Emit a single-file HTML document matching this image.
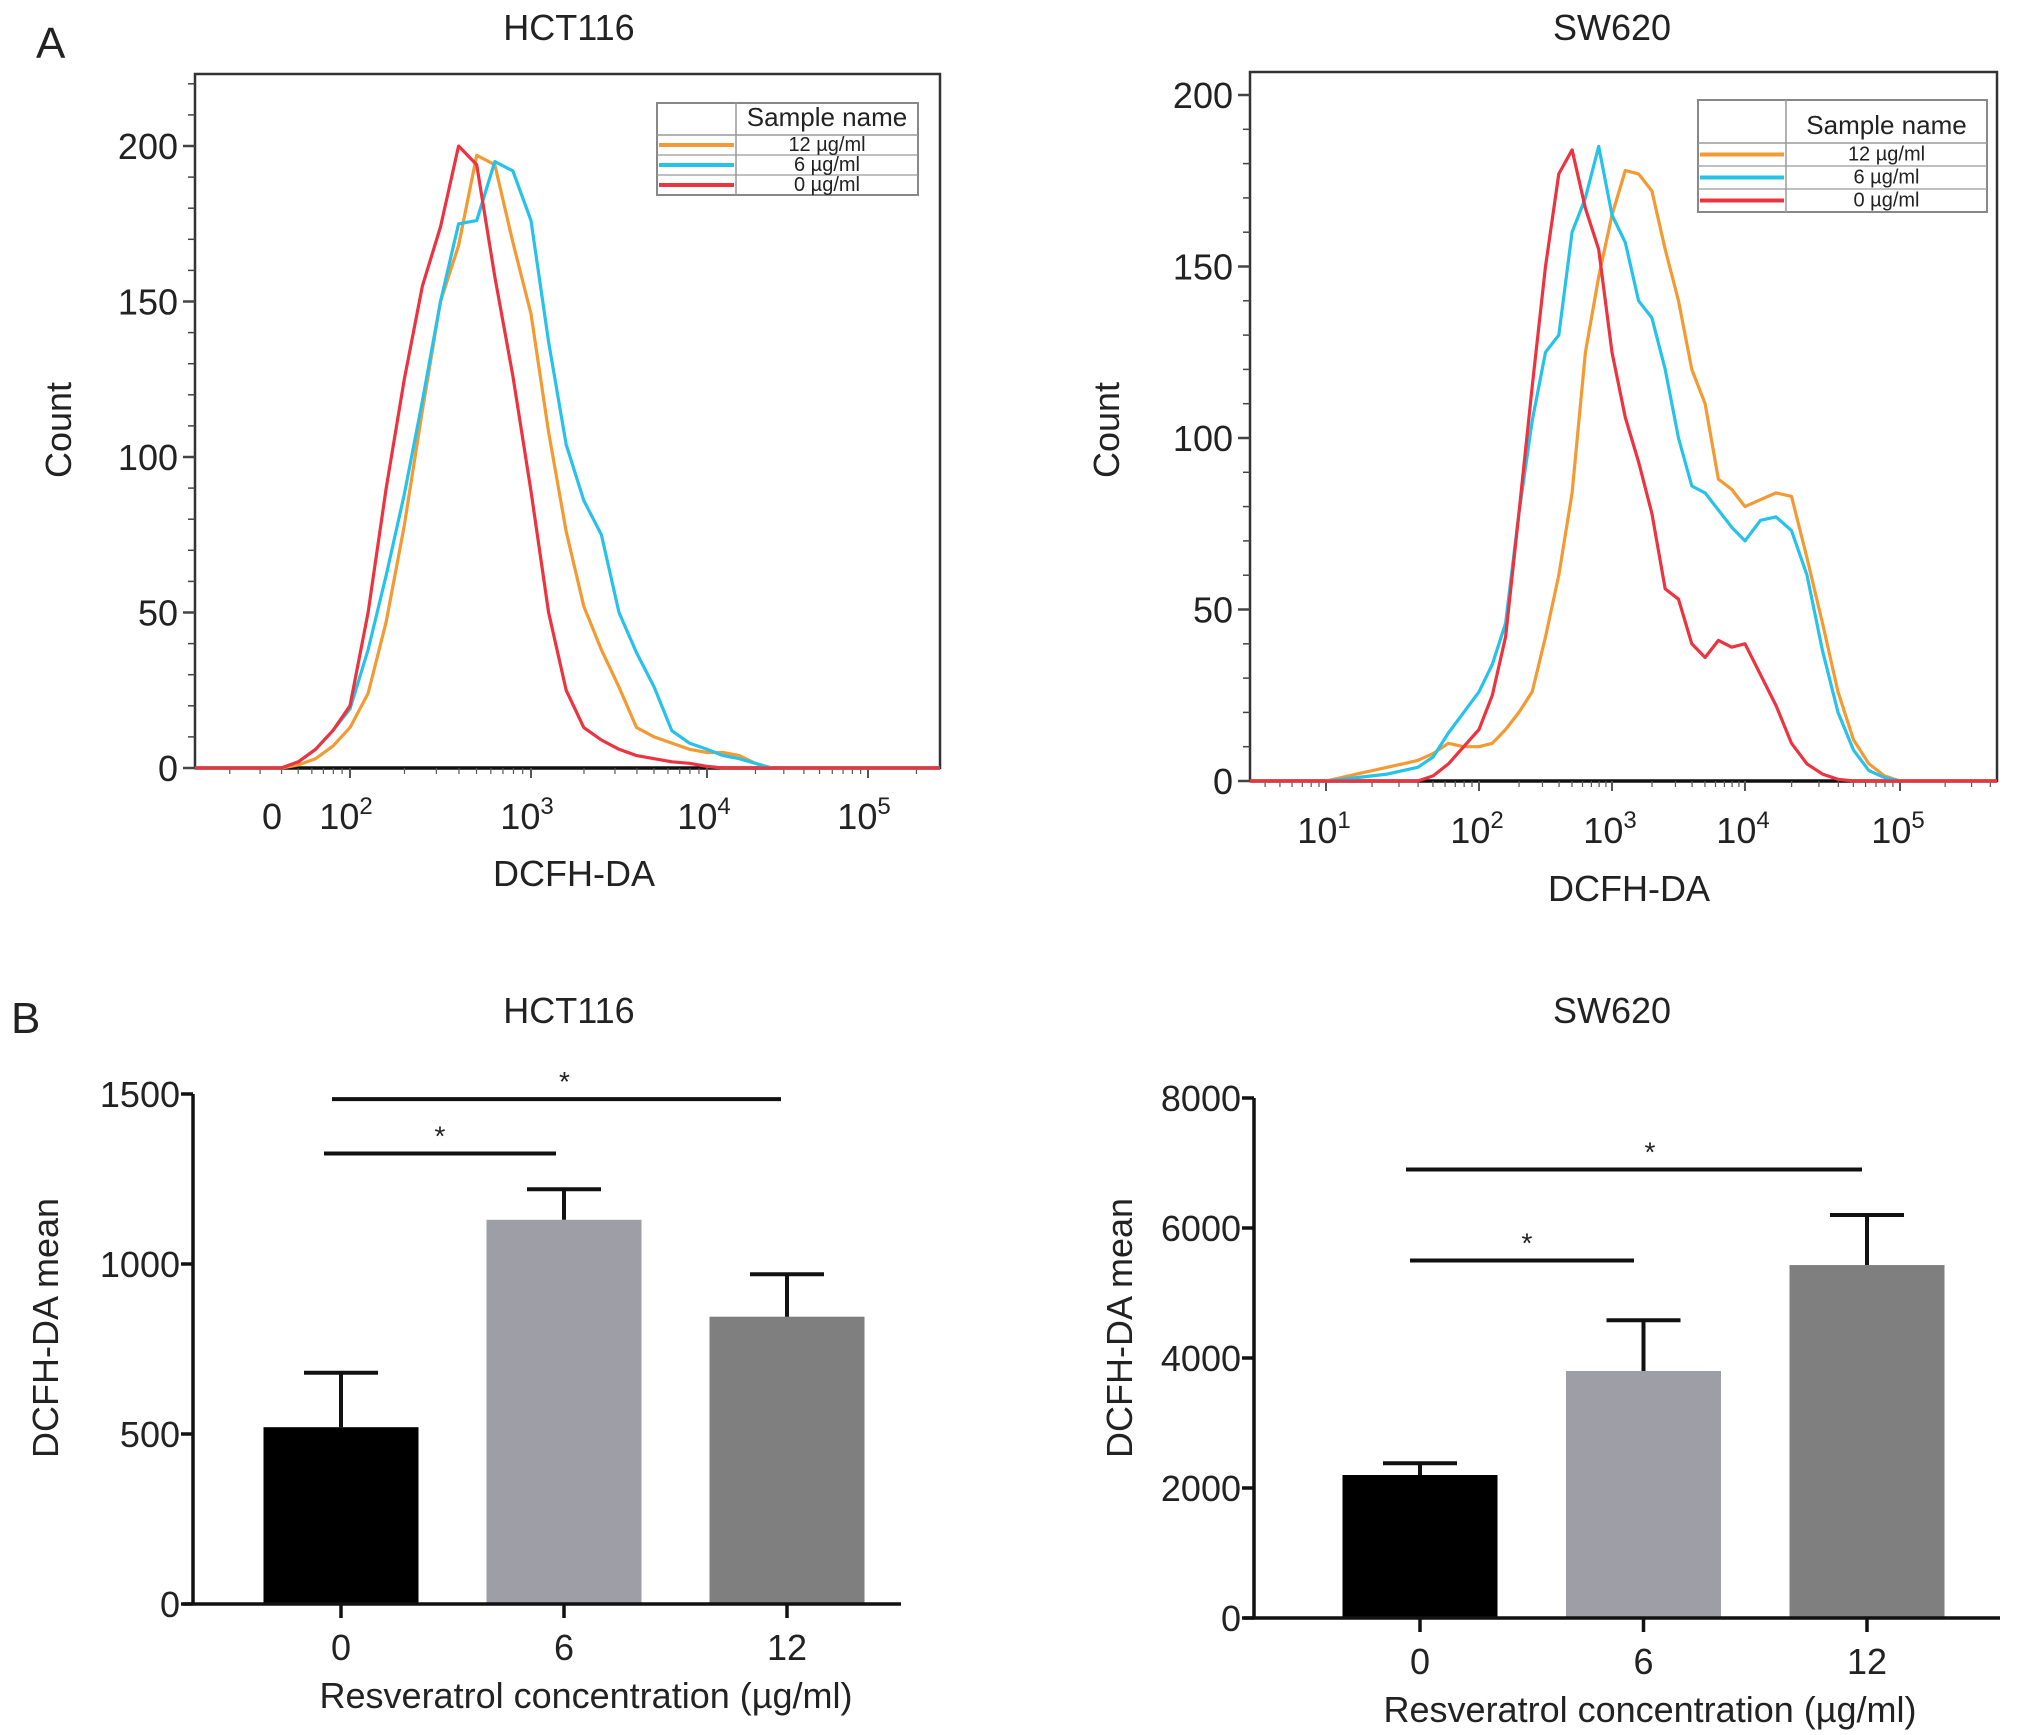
<!DOCTYPE html>
<html><head><meta charset="utf-8"><style>
html,body{margin:0;padding:0;background:#fff;}
svg{display:block;font-family:"Liberation Sans",Arial,sans-serif;}
</style></head><body>
<svg id="fig" width="2031" height="1735" viewBox="0 0 2031 1735" xmlns="http://www.w3.org/2000/svg"></svg>
<script>
// ---------- data ----------
// HCT116 histogram (log10 DCFH-DA grid)
const hctGrid = [1.6,1.7,1.8,1.9,2.0,2.1,2.2,2.3,2.4,2.5,2.6,2.7,2.8,2.9,3.0,3.1,3.2,3.3,3.4,3.5,3.6,3.7,3.8,3.9,4.0,4.1,4.2,4.3,4.4];
const hctRed    = [0,2,6,12,20,50,90,125,155,174,200,194,158,126,89,50,25,13,9,6,4,3,2,1.5,0.5,0,0,0,0];
const hctOrange = [0,1,3,7,13,24,47,78,115,150,168,197,194,169,146,108,76,52,38,26,13,10,8,6,5,5,4,1.5,0];
const hctCyan   = [0,2,6,12,19,38,62,88,118,150,175,176,195,192,176,137,104,86,75,50,37,26,12,8,6,4,3,1.5,0];
// SW620 histogram
const swGrid = [1.0,1.1,1.2,1.3,1.4,1.5,1.6,1.7,1.8,1.9,2.0,2.1,2.2,2.3,2.4,2.5,2.6,2.7,2.8,2.9,3.0,3.1,3.2,3.3,3.4,3.5,3.6,3.7,3.8,3.9,4.0,4.1,4.2,4.3,4.4,4.5,4.6,4.7,4.8,4.9,5.0];
const swRed    = [0,0,0,0,0,0,0,1.5,5,10,15,25,42,78,115,150,177,184,167,155,125,106,93,78,56,53,40,36,41,39,40,31,22,11,5,2,0.5,0,0,0,0];
const swCyan   = [0,0.5,1,1.5,2,3,4,7,14,20,26,34,46,78,105,125,130,160,170,185,165,157,140,135,120,100,86,84,79,74,70,76,77,73,60,38,20,9,3,1,0];
const swOrange = [0,1,2,3,4,5,6,8,11,10,10,11,15,20,26,42,60,84,125,147,165,178,177,172,155,140,120,110,88,85,80,82,84,83,65,46,26,12,5,1.5,0];
// Bar charts
const barCats = ["0","6","12"];
const hctMeans = [520,1130,845];
const hctErr   = [680,1220,970];
const swMeans  = [2200,3800,5430];
const swErr    = [2380,4580,6200];
const hctYTicks = [0,500,1000,1500];
const swYTicks  = [0,2000,4000,6000,8000];
const legendLabels = ["12 µg/ml","6 µg/ml","0 µg/ml"];

// ---------- helpers ----------
const NS="http://www.w3.org/2000/svg";
const svg=document.getElementById('fig');
function mk(tag,attrs,parent,text){const e=document.createElementNS(NS,tag);for(const k in attrs)e.setAttribute(k,attrs[k]);if(text!==undefined)e.textContent=text;(parent||svg).appendChild(e);return e;}
const COL={orange:"#f39a33",cyan:"#27c2ea",red:"#ec3340"};
const FS=36;

function txt(x,y,s,size,parent,anchor,name,extra){
  const t=mk('text',Object.assign({x:x,y:y,'font-size':size,'text-anchor':anchor||'middle',fill:'#222'},extra||{}),parent,s);
  
  
  return t;
}

// ---------- histogram panel ----------
function histPanel(cfg){
  const g=mk('g',{});
  
  
  const xs=v=>{
    const d=cfg.dec; const lo=cfg.decLo;
    let i=Math.floor(v)-lo; if(i<0)i=0; if(i>d.length-2)i=d.length-2;
    return d[i]+(v-(i+lo))*(d[i+1]-d[i]);
  };
  const ys=c=>cfg.y0-c*cfg.perUnit;
  const fr=mk('rect',{x:cfg.bx0,y:cfg.by0,width:cfg.bx1-cfg.bx0,height:cfg.y0-cfg.by0,fill:'none',stroke:'#333','stroke-width':2.5},g);
  
  
  mk('line',{x1:cfg.bx0,x2:cfg.bx1,y1:cfg.y0,y2:cfg.y0,stroke:'#111','stroke-width':3.5},g);
  for(let c=0;c*cfg.perUnit<=cfg.y0-cfg.by0;c+=10){
    const major=c%50===0;
    mk('line',{x1:cfg.bx0-(major?12:7),x2:cfg.bx0,y1:ys(c),y2:ys(c),stroke:'#444','stroke-width':major?2.5:1.5},g);
    if(major) txt(cfg.bx0-17,ys(c)+13,String(c),FS,g,'end','y-tick-label');
  }
  for(let k=cfg.decLo;k<cfg.decLo+cfg.dec.length;k++){
    for(let m=1;m<10;m++){
      const v=k+Math.log10(m); const x=xs(v);
      if(x<cfg.bx0||x>cfg.bx1) continue;
      mk('line',{x1:x,x2:x,y1:cfg.y0,y2:cfg.y0+(m===1?10:6),stroke:'#555','stroke-width':m===1?2:1.2},g);
    }
  }
  cfg.xlabels.forEach(l=>{
    const t=txt(l.x,cfg.labY,l.b,FS,g,'middle','x-tick-label');
    if(l.e){mk('tspan',{dy:-15,'font-size':24},t,l.e);}
  });
  cfg.series.forEach(s=>{
    let d=`M${cfg.bx0},${cfg.y0}L${xs(cfg.grid[0])},${ys(s.v[0])}`;
    for(let i=1;i<cfg.grid.length;i++) d+=`L${xs(cfg.grid[i]).toFixed(1)},${ys(s.v[i]).toFixed(1)}`;
    d+=`L${cfg.bx1},${cfg.y0}`;
    const p=mk('path',{d:d,fill:'none',stroke:s.c,'stroke-width':3.2,'stroke-linejoin':'round'},g);
    
    
  });
  const L=cfg.leg;
  const lg=mk('g',{},g);
  
  
  mk('rect',{x:L.x0,y:L.y0,width:L.x1-L.x0,height:L.y1-L.y0,fill:'#fff',stroke:'#888','stroke-width':2},lg);
  mk('line',{x1:L.xd,x2:L.xd,y1:L.y0,y2:L.y1,stroke:'#999','stroke-width':1.5},lg);
  mk('line',{x1:L.x0,x2:L.x1,y1:L.yh,y2:L.yh,stroke:'#999','stroke-width':1.5},lg);
  txt((L.xd+L.x1)/2,L.yh-9,"Sample name",L.hs,lg,'middle','legend-header');
  const rh=(L.y1-L.yh)/3;
  const cols=[COL.orange,COL.cyan,COL.red];
  for(let i=0;i<3;i++){
    const yb=L.yh+rh*(i+1);
    if(i<2) mk('line',{x1:L.x0,x2:L.x1,y1:yb,y2:yb,stroke:'#999','stroke-width':1.2},lg);
    const ly=L.yh+rh*(i+0.5);
    const ln=mk('line',{x1:L.x0+2,x2:L.xd-2,y1:ly,y2:ly,stroke:cols[i],'stroke-width':4},lg);
    
    
    txt((L.xd+L.x1)/2,ly+6,legendLabels[i],L.ts,lg,'middle','legend-entry');
  }
  txt(cfg.tx,40,cfg.title,FS,g,'middle','panel-title');
  txt(cfg.xtX,cfg.xtY,"DCFH-DA",FS,g,'middle','x-axis-title');
  txt(0,0,"Count",FS,g,'middle','y-axis-title',{transform:`translate(${cfg.ytX},${cfg.ytY}) rotate(-90)`});
}

histPanel({name:'hct116-histogram',bx0:195,bx1:940,by0:74,y0:768,perUnit:(768-146)/200,
  dec:[178,350,531,707,868],decLo:1,grid:hctGrid,
  series:[{n:'series-12ugml',c:COL.orange,v:hctOrange},{n:'series-6ugml',c:COL.cyan,v:hctCyan},{n:'series-0ugml',c:COL.red,v:hctRed}],
  xlabels:[{x:272,b:"0"},{x:346,b:"10",e:"2"},{x:527,b:"10",e:"3"},{x:704,b:"10",e:"4"},{x:864,b:"10",e:"5"}],
  labY:829,title:"HCT116",tx:569,xtX:574,xtY:886,ytX:71,ytY:430,
  leg:{x0:657,x1:918,y0:103,y1:195,xd:736,yh:135,hs:26,ts:20}});

histPanel({name:'sw620-histogram',bx0:1250,bx1:1997,by0:72,y0:781,perUnit:(781-95)/200,
  dec:[1173,1326,1479,1612,1745,1900,2050],decLo:0,grid:swGrid,
  series:[{n:'series-12ugml',c:COL.orange,v:swOrange},{n:'series-6ugml',c:COL.cyan,v:swCyan},{n:'series-0ugml',c:COL.red,v:swRed}],
  xlabels:[{x:1324,b:"10",e:"1"},{x:1477,b:"10",e:"2"},{x:1610,b:"10",e:"3"},{x:1743,b:"10",e:"4"},{x:1898,b:"10",e:"5"}],
  labY:843,title:"SW620",tx:1612,xtX:1629,xtY:901,ytX:1119,ytY:430,
  leg:{x0:1698,x1:1987,y0:100,y1:212,xd:1786,yh:143,hs:26,ts:20}});

// ---------- bar panels ----------
function barPanel(cfg){
  const g=mk('g',{});
  
  
  const ymax=cfg.ticks[cfg.ticks.length-1];
  const ys=v=>cfg.y0-(v/ymax)*(cfg.y0-cfg.yTop);
  const xs=i=>cfg.xc0+i*cfg.step;
  const fills=["#000000","#9e9ea6","#7f7f80"];
  cfg.means.forEach((m,i)=>{
    const b=mk('rect',{x:xs(i)-cfg.bw/2,y:ys(m),width:cfg.bw,height:cfg.y0-ys(m),fill:fills[i]},g);
    
    
    const e=mk('path',{d:`M${xs(i)},${ys(m)}V${ys(cfg.err[i])}M${xs(i)-37},${ys(cfg.err[i])}H${xs(i)+37}`,stroke:'#111','stroke-width':4,fill:'none'},g);
    
    
    mk('line',{x1:xs(i),x2:xs(i),y1:cfg.y0,y2:cfg.y0+14,stroke:'#111','stroke-width':3.5},g);
    txt(xs(i),cfg.y0+56,barCats[i],FS,g,'middle','x-tick-label');
  });
  mk('line',{x1:cfg.ax,x2:cfg.ax,y1:cfg.yTop,y2:cfg.y0,stroke:'#111','stroke-width':3.5},g);
  mk('line',{x1:cfg.ax-10,x2:cfg.xEnd,y1:cfg.y0,y2:cfg.y0,stroke:'#111','stroke-width':3.5},g);
  cfg.ticks.forEach(t=>{
    mk('line',{x1:cfg.ax-12,x2:cfg.ax,y1:ys(t),y2:ys(t),stroke:'#111','stroke-width':3.5},g);
    txt(cfg.ax-13,ys(t)+13,String(t),FS,g,'end','y-tick-label');
  });
  cfg.sig.forEach(s=>{
    const l=mk('line',{x1:s.x1,x2:s.x2,y1:ys(s.v),y2:ys(s.v),stroke:'#111','stroke-width':4},g);
    
    
    txt((s.x1+s.x2)/2+s.dx,ys(s.v)-8,"*",28,g,'middle','significance-star');
  });
  txt(cfg.tx,1023,cfg.title,FS,g,'middle','panel-title');
  txt(cfg.xtX,cfg.xtY,"Resveratrol concentration (µg/ml)",FS,g,'middle','x-axis-title');
  txt(0,0,"DCFH-DA mean",FS,g,'middle','y-axis-title',{transform:`translate(${cfg.ytX},${cfg.ytY}) rotate(-90)`});
}
barPanel({name:'hct116-bar-chart',ax:193,y0:1604,yTop:1094,xEnd:901,xc0:341,step:223,bw:155,ticks:hctYTicks,means:hctMeans,err:hctErr,
  sig:[{x1:332,x2:781,v:1485,dx:8},{x1:324,x2:556,v:1325,dx:0}],title:"HCT116",tx:569,xtX:586,xtY:1708,ytX:58,ytY:1328});
barPanel({name:'sw620-bar-chart',ax:1254,y0:1618,yTop:1098,xEnd:2000,xc0:1420,step:223.5,bw:155,ticks:swYTicks,means:swMeans,err:swErr,
  sig:[{x1:1406,x2:1862,v:6900,dx:16},{x1:1410,x2:1634,v:5500,dx:5}],title:"SW620",tx:1612,xtX:1650,xtY:1722,ytX:1132,ytY:1328});

const la=txt(36,58,"A",44,svg,'start','panel-label-a');
const lb=txt(11,1033,"B",44,svg,'start','panel-label-b');
</script>
</body></html>
